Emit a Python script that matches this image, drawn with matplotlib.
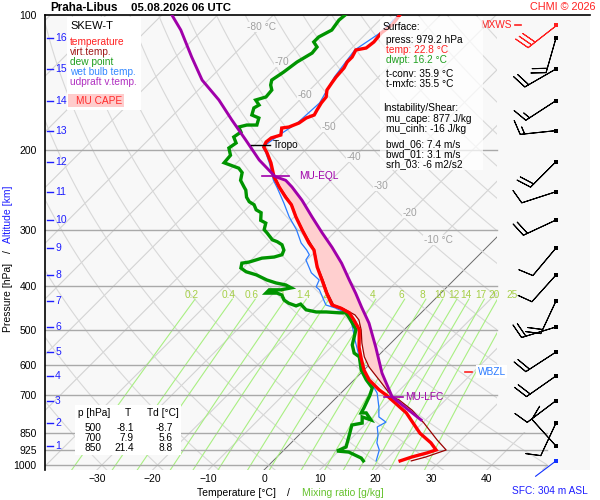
import numpy as np
import matplotlib
matplotlib.use('Agg')
import matplotlib.pyplot as plt
from matplotlib.patches import Rectangle, PathPatch
from matplotlib.path import Path
from matplotlib.ticker import NullLocator

plt.rcParams['font.family'] = ['Liberation Sans', 'DejaVu Sans']
plt.rcParams['axes.unicode_minus'] = True

# ---------------- data ----------------
# temperature profile
P_T = [979.2, 959.8, 940, 926, 893, 850, 766, 700, 681, 647, 615, 578, 547, 500, 476, 459, 448, 441,
       415, 388, 363, 333, 321, 300, 281, 264, 254, 241, 229, 213, 202, 196.5, 191.5, 187.6, 184.8,
       178.3, 177.4, 173.8, 169.4, 166.8, 162.6, 156.8, 152.1, 146.8, 141.6, 137.3, 131.1, 127.2,
       124.0, 119.6, 118.4, 114.8, 109.6, 105.2, 100]
T_T = [22.8, 24.2, 26.2, 27.3, 25.1, 21.4, 15.3, 8.6, 6.3, 2.7, 0.0, -2.7, -5.0, -8.1, -10.8, -12.9,
       -15.3, -17.4, -20.5, -23.7, -26.9, -30.5, -32.7, -36.3, -39.7, -42.7, -45.1, -48.1, -50.8,
       -53.9, -56.5, -58.0, -58.5, -58.3, -57.1, -58.2, -57.1, -56.0, -55.6, -54.7, -55.1, -55.6,
       -55.8, -56.9, -57.3, -57.6, -57.8, -58.3, -58.3, -58.9, -57.4, -57.1, -57.4, -56.9, -57.3]
# dew point profile
P_TD = [979.2, 965, 936, 931, 912, 850, 815, 807, 782, 794, 766, 766, 747, 700, 674, 647, 615, 575,
        564, 541, 500, 471, 459, 459, 457, 457, 452, 439, 443, 437, 430, 419, 415, 415, 408, 408,
        404, 398, 394, 388, 378, 372, 365, 356, 354, 347, 345, 341, 333, 324, 319, 316, 305, 300,
        290, 286, 275, 271, 264, 260, 254, 245, 241, 233, 224, 219, 213, 205, 197.5, 192.5, 186.7,
        182, 177.4, 175.6, 175.6, 169.4, 166.8, 160.9, 158.5, 154.5, 152.1, 146.8, 143.1, 139.5,
        133.9, 127.2, 121.5, 117.8, 114.8, 111.9, 108.0, 102.6, 100]
T_TD = [16.2, 15.3, 12.0, 9.7, 10.6, 8.8, 7.7, 9.2, 8.1, 10.2, 8.1, 7.2, 6.8, 5.6, 4.7, 2.2, -0.5,
        -3.2, -4.8, -6.6, -8.7, -12.0, -13.5, -14.7, -17.2, -19.0, -21.2, -23.2, -23.7, -25.5, -26.9,
        -28.2, -29.4, -31.4, -31.4, -29.3, -27.8, -29.3, -31.4, -33.6, -36.4, -38.8, -40.4, -41.1,
        -40.0, -38.4, -36.4, -35.4, -35.9, -37.2, -38.6, -39.8, -42.0, -43.1, -44.0, -45.4, -46.7,
        -48.1, -49.4, -50.8, -52.1, -53.5, -54.4, -56.2, -57.3, -58.7, -62.3, -62.5, -64.1, -63.7,
        -65.2, -64.8, -66.1, -65.0, -63.2, -64.1, -65.9, -66.8, -66.4, -67.9, -66.6, -66.8, -67.9,
        -68.6, -67.9, -67.3, -66.2, -66.4, -67.9, -67.9, -66.8, -67.3, -67.1]
# wet bulb temperature
P_TW = [979.2, 926, 893, 858, 823, 803, 782, 743, 692, 657, 615, 570, 527.5, 476, 457, 448, 441, 423,
        408, 402, 388, 374, 350, 341, 333, 321, 300, 281, 262, 242, 233, 213, 202, 196.5, 184.8,
        173.8, 156.8, 137.3, 119.6, 109.6, 100]
T_TW = [18.5, 17.1, 15.4, 14.2, 12.6, 13.3, 11.1, 9.3, 6.5, 3.6, 0.0, -3.6, -7.0, -11.3, -14.0, -16.2,
        -18.5, -20.6, -22.4, -23.5, -24.2, -26.9, -30.2, -30.5, -31.8, -34.1, -37.3, -40.9, -44.3,
        -48.3, -50.3, -54.2, -56.7, -58.2, -57.4, -56.3, -55.9, -57.9, -59.1, -57.6, -57.5]
# virtual temperature
P_TV = [979.2, 960, 926, 880, 807, 755, 717, 706, 647, 606, 575, 536, 501, 476, 464, 448, 441, 415,
        388, 363, 333, 300, 281, 264, 241, 228.5]
T_TV = [24.8, 26.7, 29.1, 25.7, 20.3, 15.8, 11.7, 9.9, 4.5, 0.4, -2.3, -5.2, -7.7, -9.9, -11.5, -15.0,
        -17.1, -20.3, -23.5, -26.8, -30.4, -36.2, -39.6, -42.6, -48.0, -50.7]
# MU parcel (updraft virtual temperature)
P_PAR = [794, 706, 625, 547, 484, 446, 415, 388, 356, 328, 305, 281, 258, 241, 233, 228.5, 210,
         189.6, 171.1, 154.5, 139.5, 124.0, 108.0, 100]
T_PAR = [19.2, 9.9, 3.8, -2.0, -7.5, -11.7, -15.3, -18.8, -23.2, -27.8, -32.1, -36.8, -41.6, -45.8,
         -48.1, -50.7, -56.5, -62.5, -68.6, -74.5, -81.1, -87.1, -93.9, -98.2]

P_LFC, P_EQL = 706, 228.5
P_TROPO, T_TROPO = 194.5, -58.0
P_WBZL = 620

# altitude ticks (km -> hPa)
KM = [1, 2, 3, 4, 5, 6, 7, 8, 9, 10, 11, 12, 13, 14, 15, 16]
P_KM = [907.5, 806.6, 719.5, 634, 561, 493.5, 432, 378.2, 329.4, 285.5, 247, 211.8, 180.7, 155.0,
        131.8, 112.5]
# winds at km levels
WDIR = [318, 205, 233, 235, 237, 253, 205, 222, 220, 245, 252, 225, 264, 237, 240, 196]
WSPD = [5, 5, 5, 10, 10, 10, 10, 5, 5, 10, 5, 10, 7.5, 7.5, 10, 10]
P_MXWS, DIR_MXWS, SPD_MXWS = 105, 232, 15
P_SFC, DIR_SFC, SPD_SFC = 979.2, 233, 2

# background diagram
ISOTHERMS = list(range(-130, 60, 10))
THETA_C = list(range(-30, 230, 10))
MIXR = [0.2, 0.4, 0.6, 1, 1.4, 2, 3, 4, 6, 8, 10, 12, 14, 17, 20, 25]
MIXR_LBL = ['0.2', '0.4', '0.6', '1', '1.4', '2', '3', '4', '6', '8', '10', '12', '14', '17', '20', '25']
ISO_LBL_T = [-80, -70, -60, -50, -40, -30, -20, -10]
ISO_LBL_P = [106.3, 127.2, 150.5, 177.3, 206.8, 239.9, 275.4, 316.2]
ISO_LBL = ['-80 °C', '-70', '-60', '-50', '-40', '-30', '-20', '-10 °C']
P_TICKS = [100, 200, 300, 400, 500, 600, 700, 850, 925, 1000]
P_GRID_UP = [200, 300, 400, 500, 600, 700]
P_GRID_LOW = [850, 925, 1000]
T_TICKS = [-30, -20, -10, 0, 10, 20, 30, 40]

TABLE_P = ['500', '700', '850']
TABLE_T = ['-8.1', '7.9', '21.4']
TABLE_TD = ['-8.7', '5.6', '8.8']

# ---------------- geometry ----------------
PB = 1025.9
SKEW = 80.77
X0_PX, PX_PER_C = 264.0, 5.571
W, H = 600, 500
L_PX, R_PX, T_PX, B_PX = 45, 590, 15, 470


def sx(t, p):
    return np.asarray(t, float) + SKEW * np.log10(PB / np.asarray(p, float))


def F(x, y):
    return x / W, 1 - y / H


fig = plt.figure(figsize=(6, 5), dpi=100)
fig.patch.set_facecolor('white')
ax = fig.add_axes([L_PX / W, 1 - B_PX / H, (R_PX - L_PX) / W, (B_PX - T_PX) / H])
ax.set_yscale('log')
ax.set_ylim(PB, 100)
xl, xrr = (L_PX - X0_PX) / PX_PER_C, (R_PX - X0_PX) / PX_PER_C
ax.set_xlim(xl, xrr)
BG = '#f8f8f8'
ax.set_facecolor(BG)
for s in ['right', 'bottom']:
    ax.spines[s].set_visible(False)
ax.spines['top'].set_linewidth(1.2)
ax.spines['left'].set_linewidth(1.2)

xr1 = (497 - X0_PX) / PX_PER_C
xr2 = (547 - X0_PX) / PX_PER_C
verts = [(xl, 100), (xr1, 100), (xr1, 845), (xr2, 845), (xr2, PB), (xl, PB), (xl, 100)]
clip = PathPatch(Path(verts), transform=ax.transData, facecolor='none', edgecolor='none')

# isotherms
pp2 = np.array([100.0, PB])
for t in ISOTHERMS:
    col, lw = ('#6a6a6a', 0.7) if t == 0 else ('#d3d3d3', 0.8)
    ln, = ax.plot(sx([t, t], pp2), pp2, color=col, lw=lw, zorder=1)
    ln.set_clip_path(clip)
# dry adiabats
pp = np.geomspace(100, PB, 80)
for th in THETA_C:
    tt = (th + 273.15) * (pp / 1000.0) ** 0.2857 - 273.15
    ln, = ax.plot(sx(tt, pp), pp, color='#d8d8d8', lw=0.8, zorder=1)
    ln.set_clip_path(clip)
# mixing ratio lines
MR_TOP, MR_LBL_P = 428, 419
pm = np.geomspace(MR_TOP, PB, 40)
for w, lab in zip(MIXR, MIXR_LBL):
    e = w * pm / (622.0 + w)
    a = np.log(e / 6.112)
    td = 243.5 * a / (17.67 - a)
    ln, = ax.plot(sx(td, pm), pm, color='#a9ef82', lw=0.8, zorder=1.2)
    ln.set_clip_path(clip)
    ax.text(sx(td[0], MR_TOP) - 0.6, MR_LBL_P, lab, color='#a6cf48', fontsize=7.3,
            ha='center', va='center', zorder=1.3)
# pressure lines
for p in P_GRID_UP:
    ax.plot([xl, xr1], [p, p], color='#a9a9a9', lw=1.0, zorder=1.5)
for p in P_GRID_LOW:
    ax.plot([xl, xr2], [p, p], color='#a9a9a9', lw=1.0, zorder=1.5)
# isotherm labels
for t, p, lab in zip(ISO_LBL_T, ISO_LBL_P, ISO_LBL):
    ax.text(sx(t, p), p, lab, color='#a0a0a0', fontsize=7.3, ha='center', va='center', zorder=1.6,
            bbox=dict(facecolor=BG, edgecolor='none', pad=0.3))

# CAPE area
P_PAR_a, T_PAR_a = np.array(P_PAR), np.array(T_PAR)
P_TV_a, T_TV_a = np.array(P_TV), np.array(T_TV)
mp = (P_PAR_a <= P_LFC) & (P_PAR_a >= P_EQL)
mv = (P_TV_a <= P_LFC) & (P_TV_a >= P_EQL)
fx = np.concatenate([sx(T_PAR_a[mp], P_PAR_a[mp]), sx(T_TV_a[mv], P_TV_a[mv])[::-1]])
fy = np.concatenate([P_PAR_a[mp], P_TV_a[mv][::-1]])
ax.fill(fx, fy, color='#ffcfcf', zorder=2, lw=0)

# profiles
ax.plot(sx(T_TW, P_TW), P_TW, color='#2b7bff', lw=0.9, zorder=4)
ax.plot(sx(T_TV, P_TV), P_TV, color='#990000', lw=0.9, zorder=4.5)
ax.plot(sx(T_TD, P_TD), P_TD, color='#009400', lw=2.4, zorder=5, solid_joinstyle='miter')
ax.plot(sx(T_T, P_T), P_T, color='#ff0000', lw=2.4, zorder=6, solid_joinstyle='miter')
ax.plot(sx(T_PAR, P_PAR), P_PAR, color='#a000aa', lw=2.1, zorder=6.5)

# level markers
PURPLE = '#a000aa'
xe = float(np.interp(P_EQL, P_PAR[::-1], sx(T_PAR, P_PAR)[::-1]))
ax.plot([xe - 2.3, xe + 2.5], [P_EQL, P_EQL], color=PURPLE, lw=1.2, zorder=7)
ax.text(xe + 4.3, P_EQL, 'MU-EQL', color=PURPLE, fontsize=7.3, va='center', ha='left', zorder=7)
xf = float(np.interp(P_LFC, P_PAR[::-1], sx(T_PAR, P_PAR)[::-1]))
ax.plot([xf - 1.5, xf + 1.9], [P_LFC, P_LFC], color=PURPLE, lw=1.2, zorder=7)
ax.text(xf + 2.3, P_LFC, 'MU-LFC', color=PURPLE, fontsize=7.3, va='center', ha='left', zorder=7)
xt = float(sx(T_TROPO, P_TROPO))
ax.plot([xt - 2.7, xt + 0.8], [P_TROPO, P_TROPO], color='black', lw=1.0, zorder=7)
ax.text(xt + 1.2, P_TROPO, 'Tropo', color='black', fontsize=7.3, va='center', ha='left', zorder=7)

yt = ax.get_yaxis_transform()
ax.plot([0.7706, 0.7835], [P_WBZL, P_WBZL], color='#ff2020', lw=1.2, transform=yt, zorder=7)
ax.text(0.7935, P_WBZL, 'WBZL', color='#2b7bff', fontsize=7.3, va='center', ha='left', transform=yt,
        zorder=7, bbox=dict(facecolor='white', edgecolor='none', pad=1.0))
ax.text(0.857, P_MXWS, 'MXWS', color='#ff2020', fontsize=7.3, va='center', ha='right', transform=yt,
        zorder=7)
ax.plot([0.8624, 0.8734], [P_MXWS, P_MXWS], color='#ff2020', lw=1.2, transform=yt, zorder=7)

# altitude ticks
BLUE = '#1e1eff'
for km, p in zip(KM, P_KM):
    ax.plot([0.0037, 0.0147], [p, p], color=BLUE, lw=1.0, transform=yt, zorder=7, clip_on=False)
    ax.text(0.0185, p, str(km), color=BLUE, fontsize=7.5, va='center', ha='left', transform=yt, zorder=7)

# winds
BARB_X = (556 - X0_PX) / PX_PER_C
BARB_LEN = 7.2


def uv(d, s):
    r = np.deg2rad(np.asarray(d, float))
    s = np.asarray(s, float)
    return -s * np.sin(r), -s * np.cos(r)


inc = dict(half=2.5, full=5, flag=25)
u, v = uv(WDIR, WSPD)
ax.barbs(np.full(len(P_KM), BARB_X), P_KM, u, v, length=BARB_LEN, pivot='tip', barb_increments=inc,
         linewidth=0.75, color='black', zorder=8)
um, vm = uv([DIR_MXWS], [SPD_MXWS])
ax.barbs([BARB_X], [P_MXWS], um, vm, length=BARB_LEN, pivot='tip', barb_increments=inc,
         linewidth=0.75, color='#ff2020', zorder=8)
# surface wind below the half-barb threshold: bare staff pointing upwind
STAFF_PT = 18.5
rs = np.deg2rad(DIR_SFC)
ax.annotate('', xy=(BARB_X, P_SFC), xytext=(STAFF_PT * np.sin(rs), STAFF_PT * np.cos(rs)),
            textcoords='offset points', zorder=8,
            arrowprops=dict(arrowstyle='-', color='#1030ff', lw=0.8, shrinkA=0, shrinkB=0))
ax.scatter(np.full(len(P_KM), BARB_X), P_KM, s=6, marker='s', color='black', zorder=9, lw=0)
ax.scatter([BARB_X], [P_MXWS], s=6, marker='s', color='#ff2020', zorder=9, lw=0)
ax.scatter([BARB_X], [P_SFC], s=6, marker='s', color='#1030ff', zorder=9, lw=0)

# ticks
ax.set_yticks(P_TICKS)
ax.set_yticklabels([str(p) for p in P_TICKS])
ax.yaxis.set_minor_locator(NullLocator())
ax.tick_params(axis='y', length=0, pad=6, labelsize=7.5)
ax.set_xticks(T_TICKS)
ax.set_xticklabels([str(t).replace('-', '\u2212') for t in T_TICKS])
ax.tick_params(axis='x', length=0, pad=3, labelsize=7.5)

# ---------------- figure-level annotations ----------------
def box(x0, y0, x1, y1, fc='white', alpha=1.0, z=2):
    r = Rectangle((x0 / W, 1 - y1 / H), (x1 - x0) / W, (y1 - y0) / H, transform=fig.transFigure,
                  facecolor=fc, edgecolor='none', alpha=alpha, zorder=z)
    fig.add_artist(r)


def txt(x, y, s, color='black', size=7.3, ha='left', **kw):
    fig.text(*F(x, y), s, color=color, fontsize=size, ha=ha, va='center', zorder=5, **kw)


txt(50, 8, 'Praha-Libus', size=8.4, weight='bold')
txt(131, 8, '05.08.2026 06 UTC', size=8.2, weight='bold')
txt(596, 7, 'CHMI © 2026', color='#ff2020', size=7.8, ha='right')

# legend box
box(67, 17, 141, 110)
txt(70, 26, 'SKEW-T', size=8)
txt(70, 42, 'temperature', color='#ff2020')
txt(70, 52, 'virt.temp.', color='#a01818')
txt(70, 62, 'dew point', color='#20a020')
txt(70, 72, 'wet bulb temp.', color='#3388ff')
txt(70, 82, 'udpraft v.temp.', color='#b030c0')
box(68, 94, 124, 107, fc='#ffcccc', z=3)
txt(76, 101, 'MU CAPE', color='#ff2a2a')

# info box
box(380, 17, 483, 170, alpha=0.72)
txt(383, 27, 'Surface:')
txt(386, 40, 'press: 979.2 hPa')
txt(386, 50, 'temp: 22.8 °C', color='#ff2020')
txt(386, 60, 'dwpt: 16.2 °C', color='#20a020')
txt(386, 74, 't-conv: 35.9 °C')
txt(386, 84, 't-mxfc: 35.5 °C')
txt(383, 108, 'Instability/Shear:')
txt(386, 119, 'mu_cape: 877 J/kg')
txt(386, 129, 'mu_cinh: -16 J/kg')
txt(386, 144, 'bwd_06: 7.4 m/s')
txt(386, 154, 'bwd_01: 3.1 m/s')
txt(386, 164, 'srh_03: -6 m2/s2')

# table box
box(75, 405, 181, 455)
txt(78, 413, 'p [hPa]')
txt(128, 413, 'T', ha='center')
txt(147, 413, 'Td [°C]')
for i, (pv, tv, tdv) in enumerate(zip(TABLE_P, TABLE_T, TABLE_TD)):
    yy = 428 + 10 * i
    txt(93, yy, pv, ha='center')
    txt(134, yy, tv, ha='right')
    txt(173, yy, tdv, ha='right')

# axis labels
txt(197, 493, 'Temperature [°C]', size=7.5)
txt(288, 493, '/', size=7.5, ha='center')
txt(302, 493, 'Mixing ratio [g/kg]', color='#66c22e', size=7.5)
fig.text(*F(8, 297), 'Pressure [hPa]', rotation=90, fontsize=7.5, ha='center', va='center')
fig.text(*F(8, 252), '/', rotation=90, fontsize=7.5, ha='center', va='center')
fig.text(*F(8, 214), 'Altitude [km]', rotation=90, fontsize=7.5, ha='center', va='center', color=BLUE)
txt(588, 491, 'SFC: 304 m ASL', color=BLUE, ha='right')

fig.savefig('out.png', dpi=100, facecolor='white')
